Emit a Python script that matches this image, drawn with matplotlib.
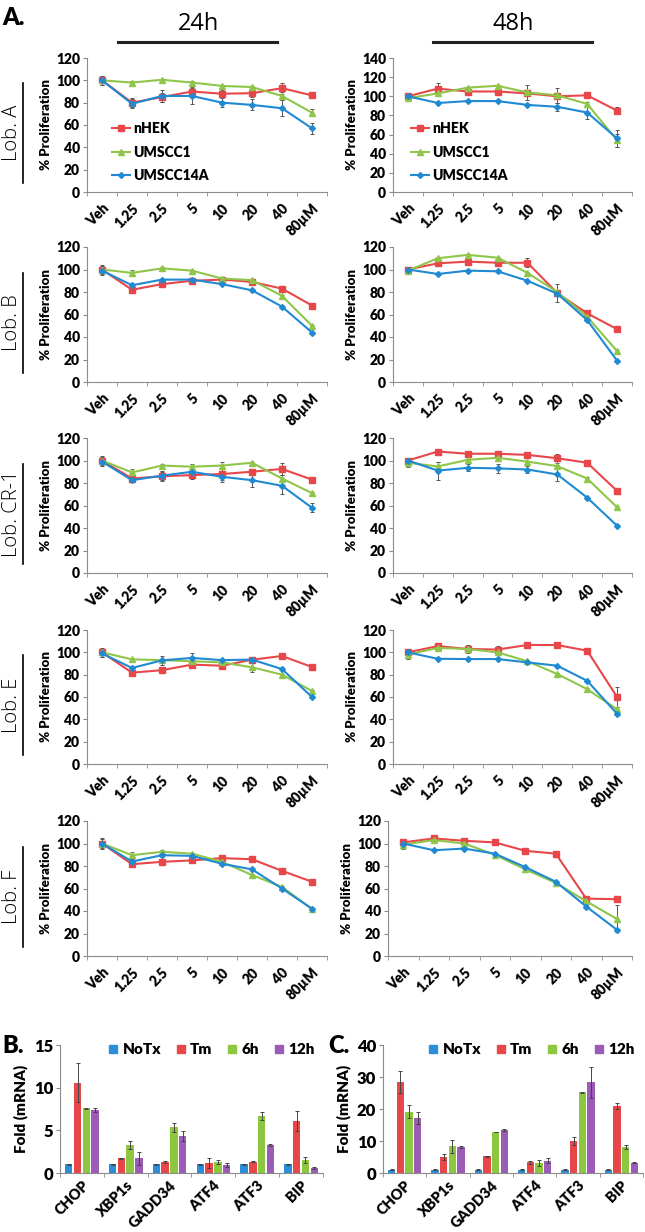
import numpy as np
import matplotlib.pyplot as plt
from matplotlib.lines import Line2D

plt.rcParams['font.family'] = ['Lato', 'DejaVu Sans']

W, H = 645, 1232

# ---- data -------------------------------------------------------------
doses = ['Veh', '1.25', '2.5', '5', '10', '20', '40', '80µM']
cells = ['nHEK', 'UMSCC1', 'UMSCC14A']

# Lob. A
lobA_24 = [[100, 80, 85, 90, 88, 88.5, 93, 86.5],
           [100, 98, 100.5, 98, 95, 94, 86, 71],
           [100, 79, 86, 86, 80, 78, 75, 57]]
lobA_24_err = [[4, 4, 4, 4, 3, 3, 5, 2],
               [1, 1, 1, 1, 1, 1, 4, 3],
               [4, 4, 5, 7, 4, 5, 7, 5]]
lobA_48 = [[100, 108, 105, 105, 103, 100, 101, 85],
           [98, 103, 109, 111, 104, 101, 92, 54],
           [100, 93, 95, 95, 91, 89, 83, 56]]
lobA_48_err = [[3, 6, 3, 4, 3, 3, 3, 4],
               [2, 1, 1, 1, 8, 8, 2, 7],
               [2, 1, 1, 1, 1, 4, 7, 9]]

# Lob. B
lobB_24 = [[100, 82, 87, 90, 91, 89, 83, 68],
           [100, 97, 101, 99, 92, 90.5, 76.5, 50],
           [99, 86, 91, 91, 87, 81.5, 67, 44]]
lobB_24_err = [[4, 1, 1, 1, 1, 1, 1, 1],
               [1, 3, 1, 1, 1, 1, 1, 1],
               [4, 1, 1, 1, 1, 1, 1, 1]]
lobB_48 = [[100, 105.5, 107, 106, 106, 79, 61, 47],
           [99, 110, 113, 110.5, 97, 80, 58, 27.5],
           [100, 96, 99, 98.4, 90, 78.5, 55, 19]]
lobB_48_err = [[2, 2, 3, 2, 4, 8, 1, 1],
               [1, 1, 1, 1, 1, 1, 1, 1],
               [1, 1, 1, 1, 1, 1, 1, 1]]

# Lob. CR-1
lobCR_24 = [[100, 84, 86, 87, 88, 90, 92.5, 83],
            [100, 89.4, 95.5, 94.5, 95.5, 98, 84, 71],
            [99, 82.5, 86.5, 90, 85.5, 82.5, 77.5, 58]]
lobCR_24_err = [[4, 3, 4, 3, 5, 1, 5, 1],
                [1, 3, 1, 2, 3, 1, 3, 1],
                [4, 2, 4, 1, 5, 6, 7, 4]]
lobCR_48 = [[100, 108, 106, 106, 105, 102, 98, 73],
            [98, 94.7, 100.6, 102.4, 99, 95, 84, 58.4],
            [100, 91, 93.5, 93, 92, 87.6, 67, 42]]
lobCR_48_err = [[2, 1, 1, 1, 2, 4, 1, 3],
                [4, 4, 1, 1, 1, 1, 1, 1],
                [2, 8, 3, 4, 3, 6, 1, 1]]

# Lob. E
lobE_24 = [[100, 81.8, 84, 89, 88, 93.4, 96.7, 86.9],
           [100, 93.7, 93, 92, 91, 86.6, 80, 65.4],
           [99, 86, 92.8, 95, 93, 93.5, 85, 60]]
lobE_24_err = [[4, 1, 1, 3, 1, 1, 1, 1],
               [1, 1, 1, 1, 1, 4, 1, 1],
               [3, 1, 4, 4, 1, 1, 1, 1]]
lobE_48 = [[100, 105.6, 103, 102.5, 106.6, 106.5, 101.5, 60],
           [98, 104, 103, 100, 92, 80.6, 67, 49],
           [100, 94.2, 94, 94, 91, 88, 74.5, 45]]
lobE_48_err = [[2, 1, 4, 3, 1, 2, 1, 9],
               [4, 1, 1, 1, 1, 1, 1, 2],
               [2, 1, 1, 1, 1, 1, 1, 1]]

# Lob. F
lobF_24 = [[100, 81.6, 83.7, 85, 87, 86, 75.7, 66],
           [100, 89.6, 92.6, 91, 83.7, 72, 61.4, 41.8],
           [100, 84, 89.6, 89, 82, 77, 60, 42]]
lobF_24_err = [[5, 1, 1, 1, 1, 1, 1, 1],
               [2, 3, 2, 1, 1, 1, 1, 1],
               [4, 2, 2, 1, 1, 1, 1, 1]]
lobF_48 = [[101, 104.5, 102.4, 101, 93.5, 91, 51, 50.5],
           [99, 103, 100, 90, 77, 65, 48.7, 33],
           [100, 94, 95.5, 91, 79, 66, 44, 23.4]]
lobF_48_err = [[2, 2, 1, 1, 1, 1, 1, 1],
               [4, 1, 1, 1, 1, 1, 1, 12],
               [2, 1, 1, 1, 1, 1, 1, 1]]

lobes = ['Lob. A', 'Lob. B', 'Lob. CR-1', 'Lob. E', 'Lob. F']

# qPCR (B and C)
genes = ['CHOP', 'XBP1s', 'GADD34', 'ATF4', 'ATF3', 'BIP']
treat = ['NoTx', 'Tm', '6h', '12h']
b_vals = [[1, 1, 1, 1, 1, 1],
          [10.6, 1.7, 1.3, 1.15, 1.3, 6.1],
          [7.6, 3.3, 5.35, 1.25, 6.7, 1.55],
          [7.4, 1.7, 4.3, 0.9, 3.3, 0.55]]
b_errs = [[0.05, 0.05, 0.05, 0.05, 0.05, 0.05],
          [2.3, 0.05, 0.15, 0.55, 0.05, 1.2],
          [0.05, 0.5, 0.5, 0.25, 0.5, 0.35],
          [0.2, 0.8, 0.6, 0.25, 0.1, 0.1]]
c_vals = [[1, 1, 1, 1, 1, 1],
          [28.5, 5.1, 5.2, 3.3, 10.1, 21],
          [19.2, 8.3, 12.8, 3.2, 25.2, 8],
          [17.2, 8.1, 13.5, 3.8, 28.3, 3.2]]
c_errs = [[0.1, 0.1, 0.1, 0.1, 0.1, 0.1],
          [3.4, 0.9, 0.1, 0.5, 1.3, 1.0],
          [2.0, 2.0, 0.1, 0.9, 0.1, 0.6],
          [2.0, 0.4, 0.3, 0.8, 4.8, 0.1]]

line_colors = ['#e8474a', '#8fc64a', '#1f8ad2']
line_markers = ['s', '^', 'D']
line_ms = [4, 4, 3]
bar_colors = ['#2a8fd8', '#e8474a', '#8dc63f', '#9a5cb4']
spine_col = '#8c8c8c'


def box(x0, y0, x1, y1):
    return [x0 / W, 1 - y1 / H, (x1 - x0) / W, (y1 - y0) / H]


def style_axes(ax, ysize):
    for s in ['top', 'right']:
        ax.spines[s].set_visible(False)
    for s in ['left', 'bottom']:
        ax.spines[s].set_color(spine_col)
        ax.spines[s].set_linewidth(0.8)
    ax.tick_params(axis='y', length=3, color=spine_col, labelsize=ysize, pad=2)
    for lab in ax.get_yticklabels():
        lab.set_fontweight('heavy')


def line_panel(ax, vals, errs, ymax):
    x = np.arange(len(doses))
    for i in range(3):
        ax.errorbar(x, vals[i], yerr=errs[i], color=line_colors[i],
                    marker=line_markers[i], ms=line_ms[i], lw=1.5,
                    ecolor='#555555', elinewidth=0.7, capsize=1.5,
                    capthick=0.7)
    ax.set_xlim(-0.5, len(doses) - 0.5)
    ax.set_ylim(0, ymax)
    ax.set_yticks(np.arange(0, ymax + 1, 20))
    ax.set_xticks(x)
    ax.set_xticklabels(doses, rotation=45, ha='right', rotation_mode='anchor',
                       fontsize=10, fontweight='heavy')
    ax.set_xticks(np.arange(-0.5, len(doses), 1), minor=True)
    ax.tick_params(axis='x', which='major', length=0, pad=7)
    ax.tick_params(axis='x', which='minor', length=3, color=spine_col)
    ax.set_ylabel('% Proliferation', fontsize=9.5, fontweight='heavy', labelpad=3)
    style_axes(ax, 10)


def bar_panel(ax, vals, errs, ymax, step):
    x = np.arange(len(genes))
    for i in range(4):
        ax.bar(x + (i - 1.5) * 0.2, vals[i], 0.17, yerr=errs[i],
               color=bar_colors[i], label=treat[i],
               error_kw=dict(ecolor='#444444', elinewidth=0.7, capsize=1.5,
                             capthick=0.7))
    ax.set_xlim(-0.5, len(genes) - 0.5)
    ax.set_ylim(0, ymax)
    ax.set_yticks(np.arange(0, ymax + 1, step))
    ax.set_xticks(x)
    ax.set_xticklabels(genes, rotation=45, ha='right', rotation_mode='anchor',
                       fontsize=10.5, fontweight='heavy')
    ax.set_xticks(np.arange(-0.5, len(genes), 1), minor=True)
    ax.tick_params(axis='x', which='major', length=0, pad=4)
    ax.tick_params(axis='x', which='minor', length=3, color=spine_col)
    ax.set_ylabel('Fold (mRNA)', fontsize=11, fontweight='heavy', labelpad=4)
    style_axes(ax, 12)
    handles = [Line2D([], [], ls='none', marker='s', ms=6, color=c) for c in bar_colors]
    ax.legend(handles, treat, loc='upper right', bbox_to_anchor=(0.99, 1.06),
              ncol=4, frameon=False, handlelength=0.6, handletextpad=0.3,
              columnspacing=1.0, borderaxespad=0,
              prop=dict(weight='heavy', size=11))


fig = plt.figure(figsize=(W / 100, H / 100), dpi=100)

rows = [(58, 192), (247, 382), (438, 573), (630, 764), (821, 956)]
left_data = [(lobA_24, lobA_24_err), (lobB_24, lobB_24_err),
             (lobCR_24, lobCR_24_err), (lobE_24, lobE_24_err),
             (lobF_24, lobF_24_err)]
right_data = [(lobA_48, lobA_48_err), (lobB_48, lobB_48_err),
              (lobCR_48, lobCR_48_err), (lobE_48, lobE_48_err),
              (lobF_48, lobF_48_err)]
right_x0 = [393, 393, 393, 393, 388]

legend_handles = [Line2D([], [], color=line_colors[i], marker=line_markers[i],
                         ms=line_ms[i], lw=1.5) for i in range(3)]

for r, (y0, y1) in enumerate(rows):
    axl = fig.add_axes(box(87, y0, 327, y1))
    line_panel(axl, left_data[r][0], left_data[r][1], 120)
    axr = fig.add_axes(box(right_x0[r], y0, 632, y1))
    line_panel(axr, right_data[r][0], right_data[r][1], 140 if r == 0 else 120)

    # lobe label with underline
    yc = (y0 + y1) / 2 + 8
    fig.text(12 / W, 1 - yc / H, lobes[r], rotation=90, ha='center',
             va='center', fontsize=14.5, fontfamily='Open Sans', fontweight='light')
    fig.add_artist(Line2D([23 / W, 23 / W], [1 - (yc - 50) / H, 1 - (yc + 50) / H],
                          color='black', lw=1.2))

    if r == 0:
        for ax, lx in [(axl, 112), (axr, 411)]:
            ax.legend(legend_handles, cells, loc='center left',
                      bbox_to_anchor=(lx / W, 1 - 152 / H),
                      bbox_transform=fig.transFigure, frameon=False,
                      handlelength=1.3, handletextpad=0.2, labelspacing=0.75,
                      borderaxespad=0, borderpad=0,
                      prop=dict(weight='heavy', size=10))

# time headers
for label, xc, xa, xb in [('24h', 198, 118, 277), ('48h', 513, 433, 592)]:
    fig.text(xc / W, 1 - 24 / H, label, ha='center', va='center', fontsize=17,
             fontfamily='Open Sans')
    fig.add_artist(Line2D([xa / W, xb / W], [1 - 42 / H, 1 - 42 / H],
                          color='#222222', lw=2.2))

fig.text(2 / W, 1 - 18 / H, 'A.', fontsize=17, fontweight='heavy', va='center')
fig.text(2 / W, 1 - 1046 / H, 'B.', fontsize=17, fontweight='heavy', va='center')
fig.text(328 / W, 1 - 1046 / H, 'C.', fontsize=17, fontweight='heavy', va='center')

axb = fig.add_axes(box(60, 1045, 323, 1173))
bar_panel(axb, b_vals, b_errs, 15, 5)
axc = fig.add_axes(box(383, 1045, 643, 1173))
bar_panel(axc, c_vals, c_errs, 40, 10)

fig.savefig('out.png', dpi=100)
